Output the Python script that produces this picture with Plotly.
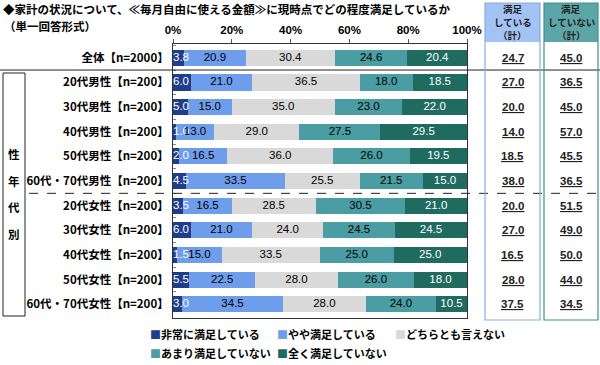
import plotly.graph_objects as go

# ---------------- data ----------------
categories = ["全体【n=2000】", "20代男性【n=200】", "30代男性【n=200】", "40代男性【n=200】",
              "50代男性【n=200】", "60代・70代男性【n=200】", "20代女性【n=200】", "30代女性【n=200】",
              "40代女性【n=200】", "50代女性【n=200】", "60代・70代女性【n=200】"]
series_names = ["非常に満足している", "やや満足している", "どちらとも言えない",
                "あまり満足していない", "全く満足していない"]
very_satisfied = [3.8, 6.0, 5.0, 1.0, 2.0, 4.5, 3.5, 6.0, 1.5, 5.5, 3.0]
somewhat_satisfied = [20.9, 21.0, 15.0, 13.0, 16.5, 33.5, 16.5, 21.0, 15.0, 22.5, 34.5]
neither = [30.4, 36.5, 35.0, 29.0, 36.0, 25.5, 28.5, 24.0, 33.5, 28.0, 28.0]
not_very_satisfied = [24.6, 18.0, 23.0, 27.5, 26.0, 21.5, 30.5, 24.5, 25.0, 26.0, 24.0]
not_at_all = [20.4, 18.5, 22.0, 29.5, 19.5, 15.0, 21.0, 24.5, 25.0, 18.0, 10.5]
satisfied_total = [24.7, 27.0, 20.0, 14.0, 18.5, 38.0, 20.0, 27.0, 16.5, 28.0, 37.5]
unsatisfied_total = [45.0, 36.5, 45.0, 57.0, 45.5, 36.5, 51.5, 49.0, 50.0, 44.0, 34.5]
x_ticks = [0, 20, 40, 60, 80, 100]

title_text = "◆家計の状況について、≪毎月自由に使える金額≫に現時点でどの程度満足しているか"
subtitle_text = "（単一回答形式）"
group_label = ["性", "年", "代", "別"]
col1_header = ["満足", "している", "（計）"]
col2_header = ["満足", "していない", "（計）"]

# ---------------- style ----------------
colors = ["#203d8c", "#6d9deb", "#d9d9d9", "#4a9da2", "#1f6b60"]
text_colors = ["white", "black", "black", "black", "white"]
JP = "Noto Sans CJK JP"
NUM = "Liberation Sans"

W, H = 600, 365
L, R, T, B = 173, 467, 44, 318  # plot area in pixels


def px_x(px):
    return (px - L) / (R - L)


def px_y(py):
    return (B - py) / (B - T)


fig = go.Figure()
all_series = [very_satisfied, somewhat_satisfied, neither, not_very_satisfied, not_at_all]
for name, vals, c in zip(series_names, all_series, colors):
    fig.add_trace(go.Bar(
        y=categories, x=vals, name=name, orientation="h",
        marker=dict(color=c, line=dict(width=0)),
        width=0.66, showlegend=False, hoverinfo="skip",
    ))

# value labels drawn on top of all bars, placed at segment centres (from the data)
cum = [0.0] * len(categories)
for k, (vals, tc) in enumerate(zip(all_series, text_colors)):
    if k == 0:
        xs = [0.0] * len(vals)
        pos = "middle right"
    else:
        xs = [c0 + v / 2 for c0, v in zip(cum, vals)]
        pos = "middle center"
    fig.add_trace(go.Scatter(
        x=xs, y=categories, mode="text", text=[f"{v:.1f}" for v in vals],
        textposition=pos, textfont=dict(family=NUM, size=11.5, color=tc),
        showlegend=False, hoverinfo="skip", cliponaxis=False,
    ))
    cum = [c0 + v for c0, v in zip(cum, vals)]

fig.update_layout(
    width=W, height=H, barmode="stack", hovermode=False,
    margin=dict(l=L, r=W - R, t=T, b=H - B, pad=0),
    paper_bgcolor="white", plot_bgcolor="white",
    font=dict(family=JP, size=11, color="black"),
)
fig.update_xaxes(
    side="top", range=[0, 100], tickvals=x_ticks, ticktext=[f"{t}%" for t in x_ticks],
    ticks="outside", ticklen=4, tickcolor="#555", showgrid=False, zeroline=False,
    showline=True, linecolor="#333", linewidth=1, mirror=True,
    tickfont=dict(family=NUM, size=11.5, color="black", weight="bold"),
)
fig.update_yaxes(
    type="category", autorange="reversed", ticks="inside", ticklen=3, tickcolor="#888",
    tickson="boundaries", showgrid=False, zeroline=False,
    showline=True, linecolor="#333", linewidth=1, mirror=True,
    tickfont=dict(family=JP, size=11.5, color="black", weight="bold"), ticklabelstandoff=1,
)

shapes = []
# separator below 全体
shapes.append(dict(type="line", xref="paper", yref="y", x0=px_x(0), x1=px_x(600), y0=0.5, y1=0.5,
                   line=dict(color="#222", width=1)))
# dashed separator male/female
shapes.append(dict(type="line", xref="paper", yref="y", x0=px_x(29), x1=px_x(600), y0=5.5, y1=5.5,
                   line=dict(color="#222", width=1, dash="dash")))
# left group box
shapes.append(dict(type="rect", xref="paper", yref="paper", x0=px_x(3), x1=px_x(25),
                   y0=px_y(316), y1=px_y(73), line=dict(color="#222", width=1)))
# right column boxes
boxes = [(485, 540, "#a2c3f3", "#88acdf"), (544, 598, "#5ca6a8", "#3f9094")]
for x0, x1, fillc, linec in boxes:
    shapes.append(dict(type="rect", xref="paper", yref="paper", x0=px_x(x0), x1=px_x(x1),
                       y0=px_y(42), y1=px_y(3), fillcolor=fillc, line=dict(width=0),
                       layer="below"))
    shapes.append(dict(type="rect", xref="paper", yref="paper", x0=px_x(x0), x1=px_x(x1),
                       y0=px_y(320), y1=px_y(3), line=dict(color=linec, width=1.2)))
fig.update_layout(shapes=shapes)

ann = []
ann.append(dict(text=f"<b>{title_text}</b>", xref="paper", yref="paper", x=px_x(1), y=px_y(9),
                xanchor="left", yanchor="middle", showarrow=False, font=dict(family=JP, size=11.5)))
ann.append(dict(text=f"<b>{subtitle_text}</b>", xref="paper", yref="paper", x=px_x(2), y=px_y(26),
                xanchor="left", yanchor="middle", showarrow=False, font=dict(family=JP, size=11.5)))
for i, ch in enumerate(group_label):
    ann.append(dict(text=f"<b>{ch}</b>", xref="paper", yref="paper", x=px_x(14), y=px_y(154 + i * 26.5),
                    xanchor="center", yanchor="middle", showarrow=False, font=dict(family=JP, size=11.5)))
for (x0, x1, _, _), hdr in zip(boxes, [col1_header, col2_header]):
    for j, line in enumerate(hdr):
        ann.append(dict(text=f"<b>{line}</b>", xref="paper", yref="paper", x=px_x((x0 + x1) / 2),
                        y=px_y(9.5 + 12.5 * j), xanchor="center", yanchor="middle", showarrow=False,
                        font=dict(family=JP, size=9.5, color="#222")))
for cat, s, u in zip(categories, satisfied_total, unsatisfied_total):
    for v, (x0, x1, _, _) in zip([s, u], boxes):
        ann.append(dict(text=f"<b><u>{v:.1f}</u></b>", xref="paper", yref="y", x=px_x((x0 + x1) / 2), y=cat,
                        xanchor="center", yanchor="middle", showarrow=False,
                        font=dict(family=NUM, size=11.5, color="#222")))
# legend (as text with coloured squares)
legend_pos = [(148, 334), (275, 334), (393, 334), (148, 353), (275, 353)]
for name, c, (lx, ly) in zip(series_names, colors, legend_pos):
    ann.append(dict(text=f"<span style='color:{c}'>■</span><b>{name}</b>", xref="paper", yref="paper",
                    x=px_x(lx), y=px_y(ly), xanchor="left", yanchor="middle", showarrow=False,
                    font=dict(family=JP, size=11, color="black")))
fig.update_layout(annotations=ann)

fig.write_html("out.html", config={"displayModeBar": False},
               post_script="document.body.style.margin='0';")
